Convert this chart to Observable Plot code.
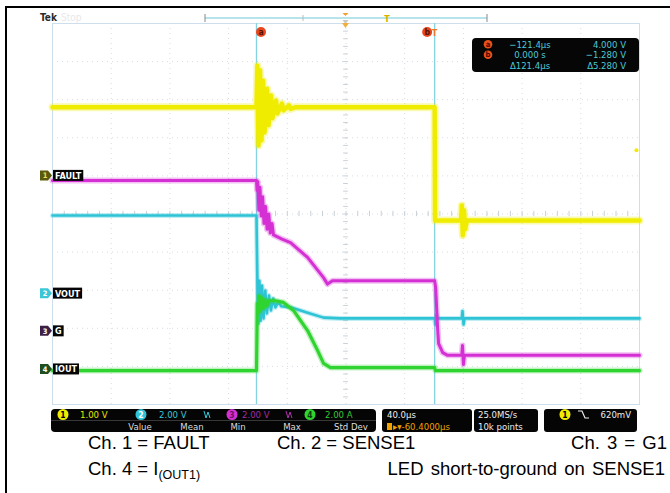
<!DOCTYPE html>
<html><head><meta charset="utf-8">
<script src="https://cdn.jsdelivr.net/npm/d3@7"></script>
<script src="https://cdn.jsdelivr.net/npm/@observablehq/plot@0.6"></script>
<style>
body{margin:0;background:#fff;}
#wrap{position:relative;width:670px;height:493px;overflow:hidden;background:#fff;font-family:"Liberation Sans",Arial,sans-serif;}
#chart{position:absolute;left:0;top:0;}
.cap{position:absolute;font-size:18.5px;color:#000;white-space:nowrap;line-height:1;}
.cap sub{font-size:12.5px;vertical-align:-4px;line-height:1;}
#frame{position:absolute;left:5px;top:6px;right:-10px;bottom:-10px;border-top:2px solid #000;border-left:2px solid #000;pointer-events:none;}
</style></head><body>
<div id="wrap"><div id="chart"></div><div id="frame"></div>
<div class="cap" id="c1" style="left:88px;top:434px"></div>
<div class="cap" id="c2" style="left:277px;top:434px"></div>
<div class="cap" id="c3" style="right:3px;top:434px;word-spacing:2px"></div>
<div class="cap" id="c4" style="left:88px;top:460px"></div>
<div class="cap" id="c5" style="right:5px;top:460px;word-spacing:2px"></div>
</div>
<script>
// ---- data (time in µs, amplitude in screen divisions) ----
const timePerDiv = 40;
const centerTime = -60.4;
const cursorTimes = [-121.4, 0];
const channelNames = ["FAULT", "VOUT", "G", "IOUT"];
const channelNumbers = ["1", "2", "3", "4"];
const channelGround = [1.0, -2.09, -3.08, -4.08];
const traceColors = ["#f0ec00", "#2ec4d6", "#d430d4", "#30d430"];
const markerFills = ["#5a5a0c", "#3cc6d6", "#3d2045", "#1f4f1f"];
const scaleLabels = ["1.00 V", "2.00 V", "2.00 V", "2.00 A"];
const scaleColors = ["#e6e600", "#35c8d8", "#a42aa4", "#33c833"];
const statHeaders = ["Value", "Mean", "Min", "Max", "Std Dev"];
const readoutTimes = ["\u2212121.4\u00b5s", "0.000 s", "\u0394121.4\u00b5s"];
const readoutValues = ["4.000 V", "\u22121.280 V", "\u03945.280 V"];
const horizLabels = ["40.0\u00b5s", "\u25b8\u25be-60.4000\u00b5s"];
const acqLabels = ["25.0MS/s", "10k points"];
const trigLevel = "620mV";
const captions = ["Ch. 1 = FAULT", "Ch. 2 = SENSE1", "Ch. 3 = G1", "Ch. 4 = I<sub>(OUT1)</sub>", "LED short-to-ground on SENSE1"];

const ch1 = [[-260.4,2.80],[-121.4,2.80],[-120.8,3.89],[-120.0,1.80],[-119.0,3.77],[-118.0,1.93],[-116.9,3.50],[-115.9,2.14],[-114.2,3.29],[-113.2,2.33],[-111.5,3.11],[-110.5,2.51],[-108.1,2.98],[-107.1,2.64],[-104.0,2.90],[-103.0,2.72],[-99.2,2.85],[-98.2,2.76],[-95,2.80],[0,2.80],[0.3,-0.17],[18,-0.17],[18.5,0.22],[19.2,-0.56],[20,0.10],[20.8,-0.40],[22,-0.17],[139.6,-0.17]];
const ch2 = [[-260.4,-0.04],[-121.4,-0.04],[-120.8,-1.67],[-120.1,-2.87],[-119.4,-1.75],[-118.6,-2.80],[-117.6,-1.88],[-116.6,-2.74],[-115.4,-2.01],[-114.3,-2.61],[-112.9,-2.14],[-111.6,-2.53],[-110.0,-2.22],[-108.5,-2.45],[-106.5,-2.30],[-104.5,-2.42],[-98.2,-2.45],[-86.6,-2.59],[-75.7,-2.72],[-64.1,-2.74],[0,-2.74],[0.5,-2.9],[1.2,-2.65],[2,-2.74],[18.5,-2.74],[19,-2.55],[19.7,-2.9],[20.4,-2.74],[139.6,-2.74]];
const ch3 = [[-260.4,0.88],[-121.4,0.88],[-121.0,0.62],[-120.5,0.85],[-119.8,0.10],[-119.0,0.70],[-118.2,-0.05],[-117.2,0.45],[-116.3,-0.25],[-115.2,0.20],[-114.2,-0.40],[-113.0,0.00],[-112.0,-0.50],[-110.8,-0.25],[-109.8,-0.55],[-104,-0.66],[-98.2,-0.75],[-86.6,-1.14],[-75.7,-1.67],[-73.0,-1.84],[-69.6,-1.75],[0,-1.75],[0.7,-1.93],[2.0,-2.98],[2.7,-3.40],[5.5,-3.64],[8.9,-3.71],[18.5,-3.71],[19,-3.45],[19.6,-3.95],[20.3,-3.71],[139.6,-3.71]];
const ch4 = [[-260.4,-4.11],[-121.4,-4.11],[-120.8,-2.35],[-120.2,-2.60],[-119.5,-2.15],[-118.7,-2.55],[-117.8,-2.20],[-116.8,-2.48],[-115.6,-2.25],[-114.4,-2.42],[-113,-2.28],[-109.8,-2.27],[-103.0,-2.32],[-96.2,-2.53],[-86.6,-3.06],[-79.8,-3.58],[-75.7,-3.92],[-71.0,-4.03],[0,-4.03],[0.5,-4.11],[139.6,-4.11]];
const strayPoint = [[137.5,1.67]];

const xDomain = [centerTime - 5 * timePerDiv, centerTime + 5 * timePerDiv];
const obj = a => a.map(([t, v]) => ({t, v}));
const gridX = d3.range(1, 10).map(k => xDomain[0] + k * timePerDiv);
const gridY = d3.range(-4, 5);
const minorX = d3.range(0, 51).map(k => xDomain[0] + k * timePerDiv / 5);
const minorY = d3.range(0, 51).map(k => -5 + k * 0.2);

const lineMark = (data, color, w, op) => Plot.line(obj(data), {x: "t", y: "v", stroke: color, strokeWidth: w, strokeOpacity: op, strokeLinejoin: "round"});

const plot = Plot.plot({
  width: 670, height: 435,
  marginLeft: 52, marginRight: 31, marginTop: 23, marginBottom: 31,
  x: {domain: xDomain, axis: null},
  y: {domain: [-5, 5], axis: null},
  style: {background: "transparent", overflow: "visible"},
  marks: [
    Plot.ruleX(gridX, {stroke: "#d5dce4", strokeDasharray: "1,4"}),
    Plot.ruleY(gridY, {stroke: "#d5dce4", strokeDasharray: "1,4"}),
    Plot.ruleX(minorX, {x: d => d, y1: -0.07, y2: 0.07, stroke: "#c8d0d8"}),
    Plot.ruleY(minorY, {y: d => d, x1: centerTime - 1.6, x2: centerTime + 1.6, stroke: "#c8d0d8"}),
    Plot.frame({stroke: "#cddfec"}),
    Plot.ruleX(cursorTimes, {stroke: "#86d4e0", strokeWidth: 1.3}),
    lineMark(ch1, traceColors[0], 8, 0.3),
    lineMark(ch1, traceColors[0], 4.5, 1),
    lineMark(ch2, traceColors[1], 5, 0.3),
    lineMark(ch2, traceColors[1], 2.6, 1),
    lineMark(ch4, traceColors[3], 6, 0.3),
    lineMark(ch4, traceColors[3], 3.2, 1),
    lineMark(ch3, traceColors[2], 6, 0.3),
    lineMark(ch3, traceColors[2], 3, 1),
    Plot.dot(obj(strayPoint), {x: "t", y: "v", r: 2, fill: traceColors[0]})
  ]
});
document.getElementById("chart").appendChild(plot);

const sx = plot.scale("x"), sy = plot.scale("y");
const X = v => sx.apply(v), Y = v => sy.apply(v);
const svg = d3.select(plot);
const ui = "'DejaVu Sans Condensed','DejaVu Sans',sans-serif";
const g = svg.append("g").attr("font-family", ui).attr("text-anchor", "start");
const txt = (x, y, s, size, fill, anchor = "start", bold = false) =>
  g.append("text").attr("x", x).attr("y", y).attr("font-size", size).attr("fill", fill)
   .attr("text-anchor", anchor).attr("font-weight", bold ? "bold" : "normal").text(s);

// header
txt(40, 21, "Tek", 10, "#2a2a2a", "start", true);
txt(61, 21, "Stop", 10, "#e8e8e8");
g.append("line").attr("x1", 205).attr("x2", 487).attr("y1", 18).attr("y2", 18).attr("stroke", "#9ddbe4").attr("stroke-width", 1.5);
[205, 487].forEach(x => g.append("line").attr("x1", x).attr("x2", x).attr("y1", 14).attr("y2", 22).attr("stroke", "#888"));
g.append("line").attr("x1", 303).attr("x2", 303).attr("y1", 15).attr("y2", 21).attr("stroke", "#bbb");
const cx = X(centerTime);
g.append("path").attr("d", `M${cx-3},13 L${cx+3},13 L${cx},16 Z`).attr("fill", "#f0a030");
g.append("path").attr("d", `M${cx-3},20 L${cx+3},20 L${cx},24 Z`).attr("fill", "#c8c8c8");
g.append("path").attr("d", `M${cx-3.5},23 L${cx+3.5},23 L${cx},28 Z`).attr("fill", "#f0b040");
txt(387, 22, "T", 9, "#d8b000", "middle", true);

// cursor labels
const cA = X(cursorTimes[0]) + 5, cB = X(cursorTimes[1]) - 7;
[[cA, "a"], [cB, "b"]].forEach(([x, l]) => {
  g.append("circle").attr("cx", x).attr("cy", 32).attr("r", 5).attr("fill", "#e8461c");
  txt(x, 35, l, 8.5, "#5a1000", "middle", true);
});
txt(X(cursorTimes[1]) + 0.5, 36, "T", 9, "#f07820", "middle", true);

// readout box
g.append("rect").attr("x", 472).attr("y", 38).attr("width", 167).attr("height", 34).attr("rx", 4).attr("fill", "#060606");
readoutTimes.forEach((t, i) => {
  const y = 47.5 + i * 10.5;
  if (i < 2) {
    g.append("circle").attr("cx", 488).attr("cy", y - 3.3).attr("r", 4.3).attr("fill", "#e8501c");
    txt(488, y - 0.6, ["a", "b"][i], 7.5, "#4a0c00", "middle", true);
  }
  txt(530, y, t, 9.5, "#4cc8d6", "middle");
  txt(626, y, readoutValues[i], 9.5, "#4cc8d6", "end");
});

// channel ground markers
channelNames.forEach((name, i) => {
  const y = Y(channelGround[i]);
  g.append("path").attr("d", `M40,${y-5} L48,${y-5} L52,${y} L48,${y+5} L40,${y+5} Z`).attr("fill", markerFills[i]);
  txt(45, y + 3, channelNumbers[i], 7.5, i === 0 ? "#e8e060" : "#fff", "middle", true);
  const r = g.append("rect").attr("x", 53).attr("y", y - 5.5).attr("height", 11).attr("fill", "#050505");
  const t = txt(55, y + 3.5, name, 9, "#fff", "start", true);
  r.attr("width", t.node().getComputedTextLength() + 4);
});

// bottom status bar
g.append("rect").attr("x", 51).attr("y", 409).attr("width", 325).attr("height", 23).attr("rx", 4).attr("fill", "#050505");
g.append("line").attr("x1", 51).attr("x2", 376).attr("y1", 420.5).attr("y2", 420.5).attr("stroke", "#444").attr("stroke-width", 0.8);
const badgeX = [63, 141, 232, 310], labelX = [80, 159, 242, 325];
const badgeText = ["#000", "#fff", "#6a106a", "#0a3a0a"];
channelNumbers.forEach((n, i) => {
  g.append("circle").attr("cx", badgeX[i]).attr("cy", 414.5).attr("r", 5.5).attr("fill", traceColors[i]);
  txt(badgeX[i], 417.8, n, 8.5, badgeText[i], "middle", true);
  txt(labelX[i], 418, scaleLabels[i], 9.5, scaleColors[i]);
});
[[207, "#35c8d8"], [289, "#b030b0"]].forEach(([x, c]) => g.append("path").attr("d", `M${x-3},411 L${x-1},418 L${x+1},412 L${x+3},418`).attr("fill", "none").attr("stroke", c).attr("stroke-width", 1));
const statX = [140, 192, 238, 292, 351];
statHeaders.forEach((s, i) => txt(statX[i], 430, s, 9.5, "#ddd", "middle"));

g.append("rect").attr("x", 382).attr("y", 409).attr("width", 90).attr("height", 23).attr("rx", 3).attr("fill", "#050505");
txt(387, 418, horizLabels[0], 9.5, "#eee");
g.append("rect").attr("x", 387).attr("y", 423).attr("width", 5).attr("height", 7).attr("fill", "#f0a000");
txt(393, 430, horizLabels[1], 9.5, "#f0a000");

g.append("rect").attr("x", 474).attr("y", 409).attr("width", 64).attr("height", 23).attr("rx", 3).attr("fill", "#050505");
acqLabels.forEach((s, i) => txt(478, 418 + i * 12, s, 9.5, "#eee"));

g.append("rect").attr("x", 544).attr("y", 409).attr("width", 93).attr("height", 23).attr("rx", 3).attr("fill", "#050505");
g.append("circle").attr("cx", 565).attr("cy", 414.5).attr("r", 5.5).attr("fill", traceColors[0]);
txt(565, 417.8, "1", 8.5, "#000", "middle", true);
g.append("path").attr("d", "M578,411 L582,411 L585,418 L589,418").attr("fill", "none").attr("stroke", "#eee").attr("stroke-width", 1.2);
txt(631, 418, trigLevel, 9.5, "#eee", "end");

// captions
["c1", "c2", "c3", "c4", "c5"].forEach((id, i) => document.getElementById(id).innerHTML = captions[i]);
</script>
</body></html>
